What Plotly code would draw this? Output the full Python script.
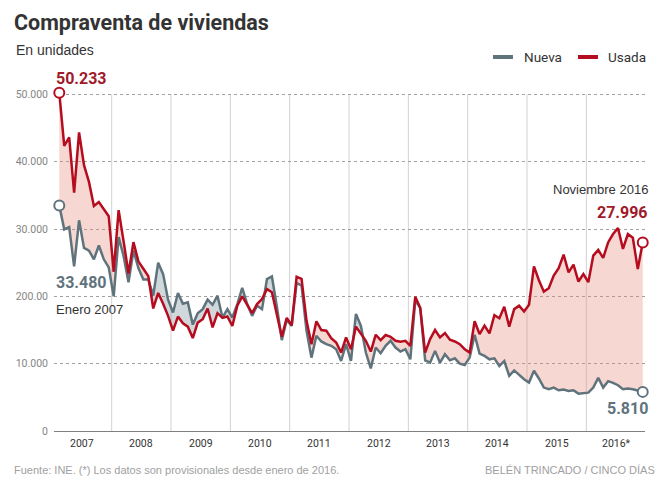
#######
# Compraventa de viviendas: nueva vs usada (INE), enero 2007 - noviembre 2016
######

import plotly.graph_objs as go

# mes 0 = enero 2007 ... mes 118 = noviembre 2016
USADA = [
    50233, 42360, 43600, 35400, 44340, 39480, 37000, 33420, 34000, 33000, 31900, 23650,
    32800, 28200, 23400, 28050, 25200, 24100, 23000, 18200, 20500, 18900, 17100, 14900,
    17000, 16000, 15500, 13800, 16100, 16600, 18200, 15400, 17500, 16800, 17000, 15600,
    18600, 20000, 18850, 17500, 18850, 19600, 21080, 20600, 17300, 14000, 16800, 15700,
    22900, 22600, 16400, 12900, 16300, 15000, 14900, 13800, 13150, 11650, 13900, 12150,
    15500, 14400, 13400, 11800, 14300, 13500, 14250, 14000, 13400, 13250, 13400, 12650,
    19950, 18300, 11650, 13650, 15000, 13900, 14550, 13550, 13300, 12900, 12150, 11650,
    16300, 14400, 15650, 14500, 17200, 16750, 18450, 15500, 18100, 18600, 17750, 18750,
    24450, 22400, 20700, 21200, 23100, 24200, 26200, 23550, 24700, 22200, 23300, 22100,
    26050, 26900, 25700, 28000, 29250, 30150, 27050, 29250, 28700, 24050, 27996,
]
NUEVA = [
    33480, 29950, 30300, 24450, 31300, 27200, 26800, 25500, 27550, 25500, 24300, 20000,
    28800, 26000, 22100, 26800, 24200, 22500, 22500, 20100, 25000, 23300, 19500, 17600,
    20500, 18900, 19100, 15800, 17500, 18100, 19500, 18750, 20100, 16850, 18100, 16850,
    18850, 21250, 18850, 17100, 18600, 18100, 22550, 22950, 18500, 13500, 16500, 15600,
    22000, 21600, 14900, 10900, 14150, 13300, 12900, 12650, 12150, 10400, 12900, 10400,
    17400, 15600, 11650, 9300, 12400, 11550, 12650, 13400, 12400, 11800, 12150, 10650,
    19450, 18250, 10500, 10150, 11900, 10150, 11400, 10500, 10800, 10000, 9800, 10900,
    14300, 11500, 11150, 10650, 10800, 9650, 10400, 8200, 9000, 8350, 7700, 7200,
    8950, 7800, 6450, 6200, 6450, 6050, 6150, 5950, 6050, 5550, 5600, 5700,
    6450, 7900, 6450, 7400, 7150, 6800, 6200, 6300, 6200, 5950, 5810,
]
YEARS = ['2007', '2008', '2009', '2010', '2011', '2012', '2013', '2014', '2015', '2016*']
Y_TICKS = [0, 10000, 20000, 30000, 40000, 50000]
Y_TICK_TEXT = ['0', '10.000', '200.00', '30.000', '40.000', '50.000']

RED = '#b50c1f'
RED_TXT = '#a01a2a'
GREY = '#5f737d'
COND = 'Roboto, sans-serif'
BODY = 'Liberation Sans, Arial, Helvetica, sans-serif'

months = list(range(len(USADA)))
upper = [max(u, n) for u, n in zip(USADA, NUEVA)]
last = months[-1]

data = [
    # relleno rosa (usada por encima de nueva)
    go.Scatter(x=months, y=NUEVA, mode='lines', line=dict(width=0),
               showlegend=False, hoverinfo='skip'),
    go.Scatter(x=months, y=upper, mode='lines', line=dict(width=0), fill='tonexty',
               fillcolor='rgba(232,140,125,0.35)', showlegend=False, hoverinfo='skip'),
    # relleno gris (nueva por encima de usada)
    go.Scatter(x=months, y=USADA, mode='lines', line=dict(width=0),
               showlegend=False, hoverinfo='skip'),
    go.Scatter(x=months, y=upper, mode='lines', line=dict(width=0), fill='tonexty',
               fillcolor='rgba(100,125,140,0.3)', showlegend=False, hoverinfo='skip'),
    go.Scatter(x=months, y=NUEVA, mode='lines', name='Nueva', showlegend=False,
               line=dict(color=GREY, width=2.5)),
    go.Scatter(x=months, y=USADA, mode='lines', name='Usada', showlegend=False,
               line=dict(color=RED, width=2.5)),
    # circulos de inicio y fin
    go.Scatter(x=[0, last], y=[NUEVA[0], NUEVA[-1]], mode='markers', showlegend=False,
               cliponaxis=False,
               marker=dict(size=10, color='white', line=dict(color=GREY, width=2))),
    go.Scatter(x=[0, last], y=[USADA[0], USADA[-1]], mode='markers', showlegend=False,
               cliponaxis=False,
               marker=dict(size=10, color='white', line=dict(color=RED, width=2))),
]

# separadores de anos y etiquetas
shapes = []
annotations = []
for i, yr in enumerate(YEARS):
    if i > 0:
        shapes.append(dict(type='line', xref='x', yref='y', x0=12 * i - 1.4, x1=12 * i - 1.4,
                           y0=-1500, y1=Y_TICKS[-1], line=dict(color='#d2d2d2', width=1),
                           layer='below'))
    annotations.append(dict(x=12 * i + 4.6, y=0, xref='x', yref='y', text=yr,
                            showarrow=False, yanchor='top', yshift=-4,
                            font=dict(family=COND, size=10.5, color='#333333')))

# leyenda dibujada a mano (lineas cortas)
for name, col, x0, xt in [('Nueva', GREY, 0.7428, 0.7919), ('Usada', RED, 0.8866, 0.934)]:
    shapes.append(dict(type='line', xref='paper', yref='paper', x0=x0, x1=x0 + 0.0338,
                       y0=1.1, y1=1.1, line=dict(color=col, width=4)))
    annotations.append(dict(x=xt, y=1.1, xref='paper', yref='paper', text=name,
                            showarrow=False, xanchor='left', yanchor='middle',
                            font=dict(family=COND, size=13.5, color='#333333')))

annotations += [
    dict(x=0, y=USADA[0], xref='x', yref='y', text='<b>50.233</b>', showarrow=False,
         xanchor='left', yanchor='bottom', xshift=-5, yshift=3,
         font=dict(family=COND, size=16, color=RED_TXT)),
    dict(x=0, y=22100, xref='x', yref='y', text='<b>33.480</b>', showarrow=False,
         xanchor='left', yanchor='middle', xshift=-5,
         font=dict(family=COND, size=16, color=GREY)),
    dict(x=0, y=18000, xref='x', yref='y', text='Enero 2007', showarrow=False,
         xanchor='left', yanchor='middle', xshift=-5,
         font=dict(family=BODY, size=13, color='#333333')),
    dict(x=last, y=35800, xref='x', yref='y', text='Noviembre 2016', showarrow=False,
         xanchor='right', yanchor='middle', xshift=7,
         font=dict(family=BODY, size=13, color='#333333')),
    dict(x=last, y=32500, xref='x', yref='y', text='<b>27.996</b>', showarrow=False,
         xanchor='right', yanchor='middle', xshift=7,
         font=dict(family=COND, size=16, color=RED_TXT)),
    dict(x=last, y=3300, xref='x', yref='y', text='<b>5.810</b>', showarrow=False,
         xanchor='right', yanchor='middle', xshift=7,
         font=dict(family=COND, size=16, color=GREY)),
    dict(x=-0.0677, y=1.1206, xref='paper', yref='paper', text='En unidades',
         showarrow=False, xanchor='left', yanchor='middle',
         font=dict(family=BODY, size=14, color='#333333')),
    dict(x=-0.071, y=-0.1147, xref='paper', yref='paper',
         text='Fuente: INE. (*) Los datos son provisionales desde enero de 2016.',
         showarrow=False, xanchor='left', yanchor='middle',
         font=dict(family=BODY, size=11, color='#a0a0a0')),
    dict(x=1.02, y=-0.1147, xref='paper', yref='paper', text='BELÉN TRINCADO / CINCO DÍAS',
         showarrow=False, xanchor='right', yanchor='middle',
         font=dict(family=BODY, size=11, color='#a0a0a0')),
]

# la pagina deja 8 px de margen en el body: la figura es 8 px menor
layout = go.Layout(
    width=656, height=477,
    margin=dict(l=46, r=19, t=83, b=54),
    paper_bgcolor='white', plot_bgcolor='white',
    title=dict(text='<b>Compraventa de viviendas</b>', x=0.0092, xref='container',
               xanchor='left', y=0.9706, yref='container', yanchor='middle',
               font=dict(family=COND, size=21.5, color='#333333')),
    xaxis=dict(range=[-1.07, 118.46], showgrid=False, zeroline=False, automargin=False,
               showticklabels=False, showline=True, linecolor='#808080', linewidth=1,
               ticks=''),
    yaxis=dict(range=[0, 50500], tickvals=Y_TICKS, ticktext=Y_TICK_TEXT, automargin=False,
               showgrid=True, gridcolor='#a0a0a0', griddash='dot', gridwidth=1,
               zeroline=False, showline=False, ticks='', ticklabelstandoff=5,
               tickfont=dict(family=COND, size=10.5, color='#858585')),
    showlegend=False,
    shapes=shapes,
    annotations=annotations,
    hovermode=False,
)

fig = go.Figure(data=data, layout=layout)
fig.write_html('out.html')
